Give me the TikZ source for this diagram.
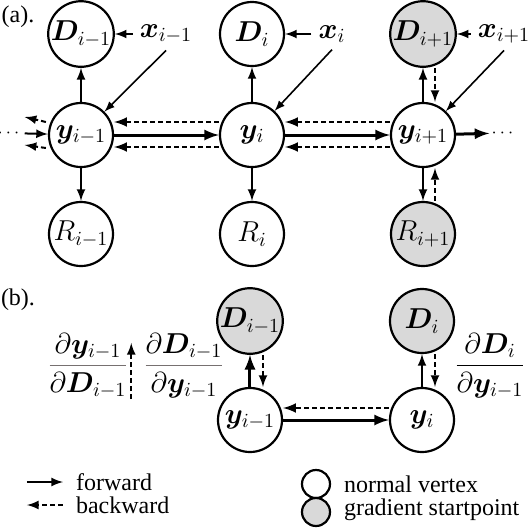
\documentclass[tikz,border=0pt]{standalone}
\usepackage{amsmath}
\usepackage{bm}
\usepackage{fontspec}
\setmainfont{Liberation Serif}
\usetikzlibrary{arrows}

\definecolor{startgray}{RGB}{217,217,217}
\definecolor{bargray}{RGB}{118,112,112}
\newcommand{\labfont}{\fontsize{14}{16}\selectfont}
\newcommand{\txtfont}{\fontsize{12}{14}\selectfont}

\tikzset{
  vertex/.style={circle, draw, line width=1.1pt, minimum size=32pt, inner sep=0pt, font=\labfont},
  startvertex/.style={vertex, fill=startgray},
  txt/.style={font=\txtfont},
  lab/.style={font=\labfont},
  frac/.style={font=\labfont, inner sep=0pt},
  fwd/.style={->, line width=1pt},
  bwd/.style={->, line width=1pt, dash pattern=on 2.5pt off 1.5pt},
}

\begin{document}
\begin{tikzpicture}[x=0.5pt, y=-0.5pt, >=latex]
\useasboundingbox (0,0) rectangle (530,532);

% (a)
\node[txt] (laba) at (18,17) {(a).};
\node[vertex] (D1) at (81,34) {$\bm{D}_{i-1}$};
\node[vertex] (D2) at (252,34) {$\bm{D}_{i}$};
\node[startvertex] (D3) at (423,34) {$\bm{D}_{i+1}$};
\node[vertex] (y1) at (81,135) {$\bm{y}_{i-1}$};
\node[vertex] (y2) at (252,135) {$\bm{y}_{i}$};
\node[vertex] (y3) at (423,135) {$\bm{y}_{i+1}$};
\node[vertex] (R1) at (81,234) {$R_{i-1}$};
\node[vertex] (R2) at (252,234) {$R_{i}$};
\node[startvertex] (R3) at (423,234) {$R_{i+1}$};
\node[lab] (x1) at (166,34) {$\bm{x}_{i-1}$};
\node[lab] (x2) at (332,34) {$\bm{x}_{i}$};
\node[lab] (x3) at (504,34) {$\bm{x}_{i+1}$};
\node[font=\fontsize{9}{10}\selectfont, inner sep=1pt] (ldots) at (10,133) {$\cdots$};
\node[font=\fontsize{9}{10}\selectfont, inner sep=1pt] (rdots) at (504,133) {$\cdots$};

\draw[fwd] (x1) -- (D1);
\draw[fwd] (x2) -- (D2);
\draw[fwd] (x3) -- (D3);
\draw[fwd, line width=0.8pt] (x1.south) -- (y1);
\draw[fwd, line width=0.8pt] (x2.south) -- (y2);
\draw[fwd, line width=0.8pt] (x3.south) -- (y3);
\draw[fwd] (y1) -- (D1);
\draw[fwd] (y2) -- (D2);
\draw[fwd] (y3) -- (D3);
\draw[fwd] (y1) -- (R1);
\draw[fwd] (y2) -- (R2);
\draw[fwd] (y3) -- (R3);
\draw[bwd] ([xshift=6pt]D3.south) -- ([xshift=6pt]y3.north);
\draw[bwd] ([xshift=6pt]R3.north) -- ([xshift=6pt]y3.south);
\draw[fwd, line width=1.5pt] (y1) -- (y2);
\draw[fwd, line width=1.5pt] (y2) -- (y3);
\draw[fwd, line width=1.5pt] (y3) -- (rdots);
\draw[fwd] (ldots) -- (y1);
\draw[bwd] ([xshift=-1pt,yshift=6.5pt]y1.west) -- ([yshift=8pt]ldots.east);
\draw[bwd] ([xshift=-1pt,yshift=-6.5pt]y1.west) -- ([yshift=-6pt]ldots.east);
\draw[bwd, line width=1.2pt] ([yshift=6.5pt]y2.west) -- ([yshift=6.5pt]y1.east);
\draw[bwd, line width=1.2pt] ([yshift=-6pt]y2.west) -- ([yshift=-6pt]y1.east);
\draw[bwd, line width=1.2pt] ([yshift=6.5pt]y3.west) -- ([yshift=6.5pt]y2.east);
\draw[bwd, line width=1.2pt] ([yshift=-6pt]y3.west) -- ([yshift=-6pt]y2.east);

% (b)
\node[txt] (labb) at (18,300) {(b).};
\node[startvertex] (D4) at (250,321) {$\bm{D}_{i-1}$};
\node[startvertex] (D5) at (422,321) {$\bm{D}_{i}$};
\node[vertex] (y4) at (250,420) {$\bm{y}_{i-1}$};
\node[vertex] (y5) at (422,420) {$\bm{y}_{i}$};
\node[frac] (f1) at (88,366) {$\color{bargray}\dfrac{\color{black}\partial\bm{y}_{i-1}}{\color{black}\partial\bm{D}_{i-1}}$};
\node[frac] (f2) at (184,366) {$\color{bargray}\dfrac{\color{black}\partial\bm{D}_{i-1}}{\color{black}\partial\bm{y}_{i-1}}$};
\node[frac] (f3) at (490,366) {$\dfrac{\partial\bm{D}_{i}}{\partial\bm{y}_{i-1}}$};

\draw[fwd, line width=1.5pt] (y4) -- (D4);
\draw[fwd] (y5) -- (D5);
\draw[bwd] ([xshift=6.5pt]D4.south) -- ([xshift=6.5pt]y4.north);
\draw[bwd] ([xshift=6.5pt]D5.south) -- ([xshift=6.5pt]y5.north);
\draw[fwd, line width=1.5pt] (y4) -- (y5);
\draw[bwd, line width=1.2pt] ([yshift=6pt]y5.west) -- ([yshift=6pt]y4.east);
\draw[bwd, shorten >=5pt] ([xshift=1pt]f1.south east) -- ([xshift=1pt]f1.north east);

% legend
\coordinate (fwdA) at (27,482);
\coordinate (bwdA) at (27,505);
\node[txt, anchor=west] (fwdT) at (69,482) {forward};
\node[txt, anchor=west] (bwdT) at (69,505) {backward};
\draw[fwd, shorten >=3pt] (fwdA) -- (fwdT.west);
\draw[bwd, shorten <=3pt] (bwdT.west) -- (bwdA);
\node[vertex, minimum size=14pt] (nv) at (316,484) {};
\node[startvertex, minimum size=14pt] (gs) at (316,512) {};
\node[txt, anchor=west] (nvT) at (337,484) {normal vertex};
\node[txt, anchor=west] (gsT) at (337,510) {gradient startpoint};
\end{tikzpicture}
\end{document}
